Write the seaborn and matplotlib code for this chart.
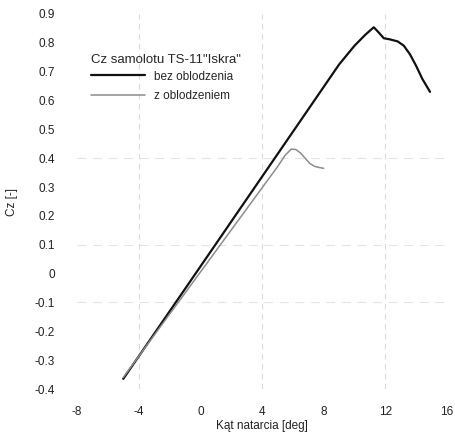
import matplotlib
matplotlib.use("Agg")
import matplotlib.pyplot as plt
import seaborn as sns
import pandas as pd

# --- data ---
alpha_clean = [-5.0, 9.0, 10.0, 10.7, 11.25, 11.5, 11.9, 12.3, 12.8, 13.2, 13.6, 14.0, 14.4, 14.9]
cz_clean = [-0.365, 0.725, 0.79, 0.828, 0.854, 0.84, 0.816, 0.812, 0.805, 0.79, 0.76, 0.72, 0.675, 0.63]

alpha_ice = [-5.0, 5.0, 5.5, 5.9, 6.2, 6.5, 6.8, 7.1, 7.4, 7.7, 8.0]
cz_ice = [-0.36, 0.37, 0.41, 0.432, 0.43, 0.418, 0.40, 0.382, 0.372, 0.368, 0.365]

series_names = ["bez oblodzenia", "z oblodzeniem"]
legend_title = 'Cz samolotu TS-11"Iskra"'
x_ticks = [-8, -4, 0, 4, 8, 12, 16]
y_ticks = [-0.4, -0.3, -0.2, -0.1, 0, 0.1, 0.2, 0.3, 0.4, 0.5, 0.6, 0.7, 0.8, 0.9]
x_grid = [-4, 4, 12]
y_grid = [-0.1, 0.1, 0.4]

df = pd.concat([
    pd.DataFrame({"alpha": alpha_clean, "cz": cz_clean, "s": series_names[0]}),
    pd.DataFrame({"alpha": alpha_ice, "cz": cz_ice, "s": series_names[1]}),
], ignore_index=True)

sns.set_style("white")
plt.rcParams["font.family"] = ["Liberation Sans", "DejaVu Sans"]

fig = plt.figure(figsize=(4.56, 4.44), dpi=100)
ax = fig.add_axes([77 / 456, 1 - 389 / 444, (447 - 77) / 456, (389 - 14) / 444])

sns.lineplot(data=df, x="alpha", y="cz", hue="s", sort=False,
             palette={series_names[0]: "#111111", series_names[1]: "#8c8c8c"},
             ax=ax, legend=False)
lines = ax.get_lines()
lines[0].set_linewidth(1.6)
lines[1].set_linewidth(1.1)

for xv in x_grid:
    ax.axvline(xv, color="#dadada", lw=0.8, ls=(0, (5, 4)), zorder=0)
for yv in y_grid:
    ax.axhline(yv, color="#e4e4e4", lw=0.8, ls=(0, (8, 6)), zorder=0)

ax.set_xlim(-8, 16)
ax.set_ylim(-0.4, 0.9)
ax.set_xticks(x_ticks)
ax.set_xticklabels([str(v) for v in x_ticks])
ax.set_yticks(y_ticks)
ax.set_yticklabels([("%g" % v) for v in y_ticks])
ax.tick_params(axis="x", length=0, pad=12, labelsize=8.5, colors="#222222")
ax.tick_params(axis="y", length=0, pad=16, labelsize=8.5, colors="#222222")
for sp in ax.spines.values():
    sp.set_visible(False)

ax.set_xlabel("Kąt natarcia [deg]", fontsize=8.5, color="#222222", labelpad=2)
ax.set_ylabel("Cz [-]", fontsize=8.5, color="#222222", labelpad=0)
ax.yaxis.set_label_coords(-59 / 370, 0.5)

leg = ax.legend(handles=lines, labels=series_names, title=legend_title,
                loc="upper left", bbox_to_anchor=(0.025, 0.905), frameon=False,
                fontsize=8.5, title_fontsize=9.5, handlelength=4.6,
                handletextpad=0.75, labelspacing=0.65, borderaxespad=0)
leg._legend_box.align = "left"
leg._legend_box.sep = 3

fig.savefig("out.png", dpi=100)
